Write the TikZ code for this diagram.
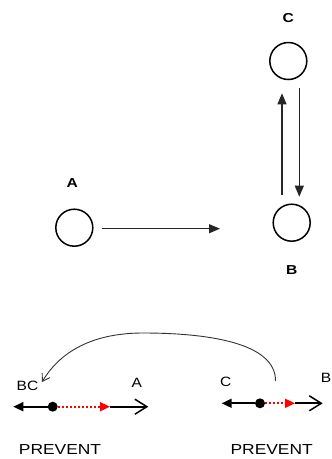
\documentclass[tikz,border=0pt]{standalone}
\usepackage{fontspec}
\setmainfont{Liberation Sans}
\usetikzlibrary{arrows.meta}
\begin{document}
\begin{tikzpicture}[x=1pt, y=-1pt, line join=round,
		state/.style={draw, circle, line width=1.5pt, minimum size=37pt, inner sep=0pt},
		toplbl/.style={font=\fontsize{13}{15}\bfseries, inner sep=0pt, xscale=1.2, transform shape},
		botlbl/.style={font=\fontsize{13.5}{15}\selectfont, inner sep=0pt, xscale=1.15, transform shape},
		prevlbl/.style={font=\fontsize{14.5}{16}\selectfont, inner sep=0pt, xscale=1.2, transform shape},
		arr/.style={draw=black!85, line width=1.1pt, -{Triangle[length=11pt, width=9pt]}},
		dot/.style={circle, fill, inner sep=0pt, minimum size=10pt},
		back/.style={line width=1.7pt, -{Triangle[length=10pt, width=9pt]}},
		push/.style={red, line width=1.8pt, dash pattern=on 2pt off 2pt, -{Triangle[length=10pt, width=9pt]}},
		ahead/.style={line width=1.7pt, -{Straight Barb[length=12pt, width=15pt, line width=1.5pt]}}]
	\useasboundingbox (0,0) rectangle (332,459);
	% graph
	\node[state] (circA) at (74.3,227.7) {};
	\node[state] (circB) at (291.7,222.7) {};
	\node[state] (circC) at (288.3,61) {};
	\node[toplbl] (labA) at (72.3,183.5) {A};
	\node[toplbl] (labB) at (291.7,270.5) {B};
	\node[toplbl] (labC) at (288.3,18.3) {C};
	\coordinate (ab1) at (101.7,228.7);
	\coordinate (ab2) at (220,228.7);
	\coordinate (bc1) at (282,195);
	\coordinate (bc2) at (282,93.3);
	\coordinate (cb1) at (299.3,87.7);
	\coordinate (cb2) at (299.3,196.7);
	\draw[arr] (ab1) -- (ab2);
	\draw[arr] (bc1) -- (bc2);
	\draw[arr] (cb1) -- (cb2);
	% left row
	\coordinate (tipL) at (13.3,406.7);
	\node[dot] (dotL) at (52.7,406.7) {};
	\coordinate (redL) at (110,406.7);
	\coordinate (endL) at (148.3,406.7);
	\draw[back] (dotL) -- (tipL);
	\draw[push] (dotL.east) -- (redL);
	\draw[ahead] (redL) -- (endL);
	\node[botlbl] (lblBC) at (27.5,386.2) {BC};
	\node[botlbl] (lblA) at (136.7,383) {A};
	\node[prevlbl] (prevL) at (60,450) {PREVENT};
	% right row
	\coordinate (tipR) at (221.7,403.3);
	\node[dot] (dotR) at (260,403.3) {};
	\coordinate (redR) at (295,403.3);
	\coordinate (endR) at (322.7,403.3);
	\draw[back] (dotR) -- (tipR);
	\draw[push] (dotR.east) -- (redR);
	\draw[ahead] (redR) -- (endR);
	\node[botlbl] (lblC) at (225.8,381.7) {C};
	\node[botlbl] (lblB) at (326,378) {B};
	\node[prevlbl] (prevR) at (271.7,450) {PREVENT};
	% swap
	\coordinate (swapS) at (275.5,381);
	\coordinate (swapT) at (42,382);
	\draw[black!80, line width=0.9pt, -{Straight Barb[length=7pt, width=9pt]}]
		(swapS) .. controls (276,342) and (205,333) .. (143,333)
		.. controls (92,333) and (60,352) .. (swapT);
\end{tikzpicture}
\end{document}
